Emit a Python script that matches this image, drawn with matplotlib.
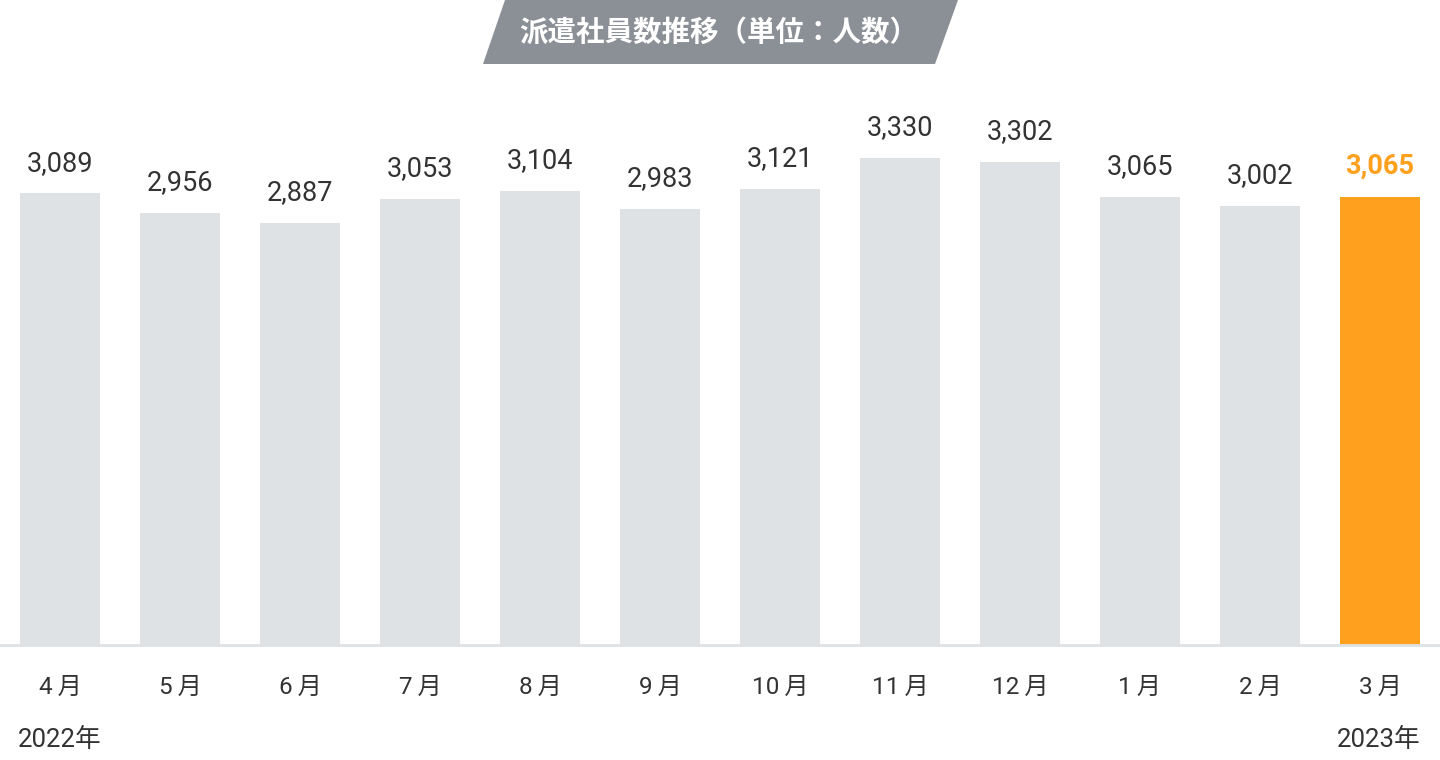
import matplotlib
matplotlib.use("Agg")
import matplotlib.pyplot as plt
from matplotlib.patches import Polygon

# Data
months = ["4月", "5月", "6月", "7月", "8月", "9月", "10月", "11月", "12月", "1月", "2月", "3月"]
staff = [3089, 2956, 2887, 3053, 3104, 2983, 3121, 3330, 3302, 3065, 3002, 3065]
year_start = "2022年"
year_end = "2023年"
title = "派遣社員数推移（単位：人数）"

# Styles
BAR_GREY = "#dfe2e5"
HIGHLIGHT = "#ffa01e"
TEXT = "#333333"
BANNER = "#8a9096"
FONTS = ["Roboto", "Noto Sans CJK JP", "DejaVu Sans"]

plt.rcParams["font.family"] = FONTS

fig = plt.figure(figsize=(14.4, 7.6), dpi=100)
W, H = 1440, 760

# axes: bottom at y=645px, top at y=100px (from top)
ax_bottom = 1 - 645 / H
ax_top = 1 - 100 / H
ax = fig.add_axes([0, ax_bottom, 1, ax_top - ax_bottom])

colors = [BAR_GREY] * (len(staff) - 1) + [HIGHLIGHT]
x = list(range(len(staff)))
ax.bar(x, staff, width=80 / 120, color=colors, zorder=2)

ax.set_xlim(-0.5, len(staff) - 0.5)
ax.set_ylim(0, max(staff) * (645 - 100) / (645 - 158))

for i, v in enumerate(staff):
    last = i == len(staff) - 1
    ax.annotate(f"{v:,}", (i, v), xytext=(0, 12), textcoords="offset points",
                ha="center", va="bottom", fontsize=19.5,
                color=HIGHLIGHT if last else TEXT,
                fontweight="bold" if last else "normal")

ax.axhline(0, color=BAR_GREY, lw=2, zorder=3, clip_on=False)

for s in ax.spines.values():
    s.set_visible(False)
ax.set_yticks([])
ax.set_xticks(x)
ax.set_xticklabels([m.replace("月", "\u2009月") for m in months], fontsize=17.5, color=TEXT)
ax.tick_params(axis="x", length=0, pad=22)

# year labels
fig.text(18 / W, 1 - 740 / H, year_start, ha="left", va="center", fontsize=18.5, color=TEXT)
fig.text(1421 / W, 1 - 740 / H, year_end, ha="right", va="center", fontsize=18.5, color=TEXT)

# title banner (parallelogram)
pts = [(483, 64), (505, 0), (958, 0), (935, 64)]
banner = Polygon([(px / W, 1 - py / H) for px, py in pts], closed=True,
                 transform=fig.transFigure, facecolor=BANNER, edgecolor="none")
fig.patches.append(banner)
fig.text(719 / W, 1 - 33 / H, title, ha="center", va="center", fontsize=20.5,
         fontweight="bold", color="white", family=["Noto Sans CJK JP", "DejaVu Sans"])

fig.savefig("out.png", dpi=100)
